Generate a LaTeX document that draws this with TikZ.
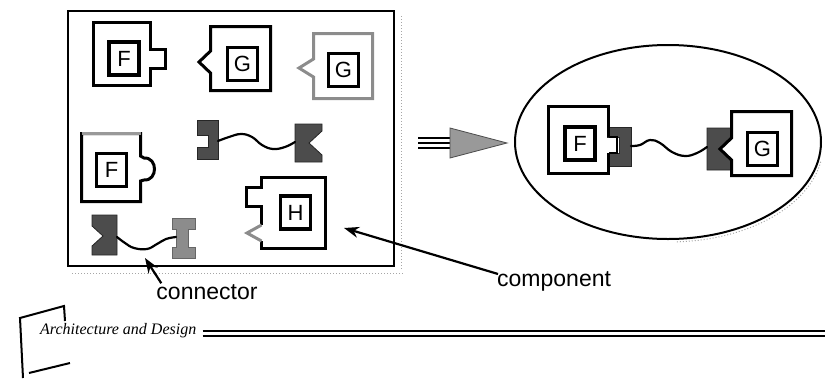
\documentclass[tikz,border=0pt]{standalone}
\usepackage{fontspec}
\setmainfont{Liberation Serif}
\newfontfamily\sansfam{Liberation Sans}
\usetikzlibrary{arrows.meta}
\begin{document}
\begin{tikzpicture}[x=1pt,y=-1pt,
  comp/.style={line width=3pt, line join=miter, miter limit=10},
  compgrey/.style={comp, draw=black!45},
  letterbox/.style={draw, line width=3.8pt, minimum width=30pt, minimum height=33pt, inner sep=0pt, fill=white, font=\sansfam\fontsize{22}{22}\selectfont},
  darkend/.style={fill=black!70, draw=black!85, line width=0.8pt},
  lightend/.style={fill=black!45, draw=black!60, line width=0.8pt},
  wire/.style={line width=2.2pt, line cap=round, line join=round},
  caption/.style={font=\sansfam\fontsize{23}{23}\selectfont, inner sep=0pt},
  pointer/.style={line width=2.2pt, -{Stealth[length=15pt,width=11pt]}},
  scanshadow/.style={draw=black!35, line width=1pt, dotted},
]
\useasboundingbox (0,0) rectangle (825,378);

% frame
\draw[scanshadow] (72,273) -- (404,273);
\draw[scanshadow] (401,16) -- (401,270);
\draw[line width=2pt] (68,11) rectangle (394,266);

% F (top left)
\draw[comp] (150.5,49) -- (150.5,22.5) -- (93.5,22.5) -- (93.5,85.5) -- (150.5,85.5) -- (150.5,68) -- (165.5,68) -- (165.5,49) -- cycle;
\node[letterbox] (f1) at (124,58.5) {F};

% G (top middle)
\draw[comp] (210.5,51) -- (210.5,26.5) -- (270.5,26.5) -- (270.5,90.5) -- (210.5,90.5) -- (210.5,73) -- (199,62) -- cycle;
\node[letterbox] (g1) at (242.5,64) {G};

% G (top right, grey)
\draw[compgrey] (313.5,59) -- (313.5,33.5) -- (372.5,33.5) -- (372.5,98.5) -- (313.5,98.5) -- (313.5,77) -- (299,68) -- cycle;
\node[letterbox] (g2) at (343.5,70) {G};

% F (lower left)
\draw[comp] (140.5,156) -- (140.5,133.5) -- (81.5,133.5) -- (81.5,201.5) -- (140.5,201.5) -- (140.5,181) -- (144,180) .. controls (158,181) and (158,157) .. (144,158) -- cycle;
\draw[line width=3pt, draw=black!40] (81.5,133.5) -- (140.5,133.5);
\node[letterbox] (f2) at (111.5,170) {F};

% H
\draw[comp] (261.5,225) -- (261.5,206) -- (246.5,206) -- (246.5,187) -- (261.5,187) -- (261.5,177.5) -- (325.5,177.5) -- (325.5,248.5) -- (261.5,248.5) -- (261.5,241);
\draw[compgrey] (261.5,241) -- (247,233) -- (261.5,225);
\node[letterbox] (h) at (295.5,212.5) {H};

% connector (middle)
\draw[darkend] (197,120) -- (218,120) -- (218,159) -- (197,159) -- (197,147) -- (208,147) -- (208,135) -- (197,135) -- cycle;
\draw[darkend] (295,124) -- (322,124) -- (322,131) -- (309,143) -- (322,155) -- (322,162) -- (295,162) -- cycle;
\coordinate (c1a) at (218,141);
\coordinate (c1b) at (295,142);
\draw[wire] plot[smooth, tension=0.7] coordinates {(c1a) (229,137) (241,134) (252,137) (262,145) (273,149) (285,147) (c1b)};

% connector (bottom)
\draw[darkend] (92,215) -- (117,215) -- (117,255) -- (92,255) -- (92,246) -- (103,236) -- (92,226) -- cycle;
\draw[lightend] (172,218) -- (195,218) -- (195,229) -- (188,229) -- (188,247) -- (195,247) -- (195,258) -- (172,258) -- (172,247) -- (176,247) -- (176,229) -- (172,229) -- cycle;
\coordinate (c2a) at (117,237);
\coordinate (c2b) at (176,237);
\draw[wire] plot[smooth, tension=0.7] coordinates {(c2a) (125,243) (134,248) (147,249) (157,244) (166,239) (c2b)};

% big arrow
\draw[line width=1.2pt] (418,138) -- (452,138);
\draw[line width=1.2pt] (418,143) -- (452,143);
\draw[line width=1.2pt] (418,148) -- (452,148);
\draw[fill=black!40, draw=black!70, line width=0.8pt] (450,128) -- (507,143) -- (450,158) -- cycle;

% ellipse configuration
\draw[scanshadow] (820.7,161.8) arc[start angle=10, end angle=88, x radius=153, y radius=97];
\draw[line width=2pt] (668,142) ellipse [x radius=153, y radius=97];

\draw[darkend] (607,127) -- (631,127) -- (631,166) -- (607,166) -- (607,153) -- (619,153) -- (619,137) -- (607,137) -- cycle;
\draw[comp] (608.5,137) -- (608.5,106.5) -- (548.5,106.5) -- (548.5,173.5) -- (608.5,173.5) -- (608.5,153);
\draw[line width=1.2pt, fill=white] (608.5,137) -- (617,137) -- (617,153) -- (608.5,153);
\node[letterbox] (f3) at (580,143.5) {F};

\draw[darkend] (707,128) -- (731,128) -- (731,137) -- (719,149) -- (731,161) -- (731,170) -- (707,170) -- cycle;
\draw[comp] (731.5,138) -- (731.5,111.5) -- (791.5,111.5) -- (791.5,175.5) -- (731.5,175.5) -- (731.5,160) -- (720,149) -- cycle;
\node[letterbox] (g3) at (762.5,149) {G};

\coordinate (c3a) at (631,146);
\coordinate (c3b) at (707,147);
\draw[wire] plot[smooth, tension=0.7] coordinates {(c3a) (640,145) (650,140) (660,143) (672,152) (685,156) (697,153) (c3b)};

% labels and pointers
\node[caption] (lconn) at (207,292) {connector};
\coordinate (tconn) at (145,258);
\draw[pointer] ([xshift=5pt,yshift=1pt]lconn.north west) -- (tconn);

\node[caption, anchor=west] (lcomp) at (497,281) {component};
\coordinate (tcomp) at (344,228);
\draw[pointer] ([xshift=1pt,yshift=-3pt]lcomp.north west) -- (tcomp);

% footer
\node[anchor=base west, inner sep=0pt, font=\itshape\fontsize{16}{16}\selectfont] (arch) at (40,334) {Architecture and Design};
\draw[line width=1.8pt] ([xshift=6pt,yshift=3pt]arch.base east) -- (825,331);
\draw[line width=1.8pt] ([xshift=6pt,yshift=-2pt]arch.base east) -- (825,336);
\draw[line width=2pt] (65,321) -- (64,306) -- (20,318) -- (23,378);
\draw[line width=2pt] (29,373) -- (70,363);
\end{tikzpicture}
\end{document}
